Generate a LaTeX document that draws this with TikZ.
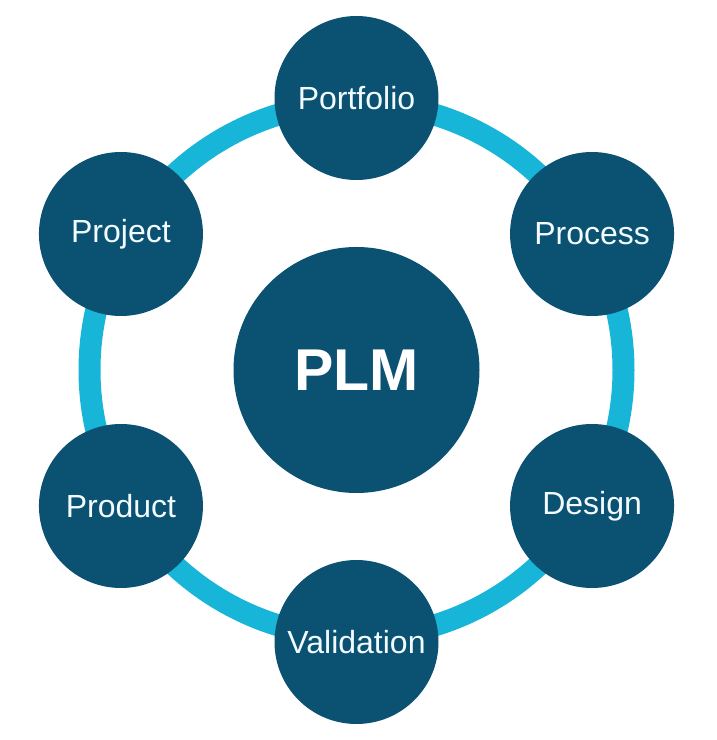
\documentclass[tikz,border=0pt]{standalone}
\usepackage{fontspec}
\setmainfont{Liberation Sans}
\usetikzlibrary{calc}
\definecolor{navy}{HTML}{0A5172}
\definecolor{ringcyan}{HTML}{17B5D8}
\definecolor{txt}{HTML}{F2FBFF}
\begin{document}
\begin{tikzpicture}[x=1pt,y=1pt,
  sat/.style={circle,fill=navy,minimum size=164pt,inner sep=0pt,text=txt,font=\fontsize{32}{36}\selectfont},
  hub/.style={circle,fill=navy,minimum size=246pt,inner sep=0pt,text=white,font=\fontsize{59}{64}\selectfont\bfseries},
  ring/.style={draw=ringcyan,line width=22pt}]
\useasboundingbox (0,0) rectangle (717,740);
\coordinate (c) at (356.5,370);
\draw[ring] (c) circle (267);
\node[hub] (plm) at (c) {PLM};
\node[sat] (portfolio) at ($(c)+(90:272)$) {Portfolio};
\node[sat] (process) at ($(c)+(30:272)$) {Process};
\node[sat] (design) at ($(c)+(-30:272)$) {Design};
\node[sat] (validation) at ($(c)+(-90:272)$) {Validation};
\node[sat] (product) at ($(c)+(-150:272)$) {Product};
\node[sat] (project) at ($(c)+(150:272)$) {Project};
\end{tikzpicture}
\end{document}
